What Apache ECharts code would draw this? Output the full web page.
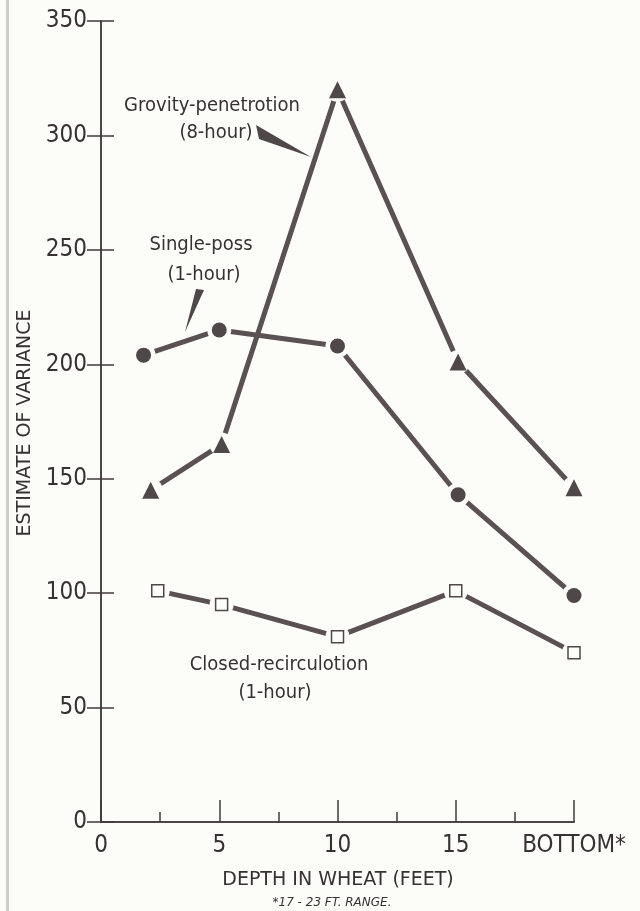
<!DOCTYPE html>
<html><head><meta charset="utf-8">
<script src="https://cdn.jsdelivr.net/npm/echarts@6/dist/echarts.min.js"></script>
<style>html,body{margin:0;padding:0;background:#fcfcf8}#c{width:640px;height:911px}</style>
</head><body><div id="c"></div>
<script>
// ---- data ----
const depthGravity = [2.1, 5.1, 10.0, 15.1, 20];
const gravity      = [145, 165, 320, 201, 146];
const depthSingle  = [1.8, 5.0, 10.0, 15.1, 20];
const single       = [204, 215, 208, 143, 99];
const depthClosed  = [2.4, 5.1, 10.0, 15.0, 20];
const closed       = [101, 95, 81, 101, 74];
const xTickValues  = [0, 5, 10, 15, 20];
const xTickLabels  = ['0', '5', '10', '15', 'BOTTOM*'];
const yTickValues  = [0, 50, 100, 150, 200, 250, 300, 350];

const FONT = '"DejaVu Sans Condensed","Liberation Sans Narrow","DejaVu Sans",sans-serif';
const INK = '#363232';
const LINE = '#5a5252';
const MARK = '#4e4848';
const BG = '#fcfcf8';

const pairs = (xs, ys) => xs.map((x, i) => [x, ys[i]]);
const gData = pairs(depthGravity, gravity);
const sData = pairs(depthSingle, single);
const cData = pairs(depthClosed, closed);

const chart = echarts.init(document.getElementById('c'), null, {renderer: 'canvas'});

const lineSeries = (d) => ({
  type: 'line', data: d, symbol: 'none', z: 1, silent: true,
  lineStyle: {color: LINE, width: 5, opacity: 1}, animation: false
});
const gapSeries = (d) => ({
  type: 'scatter', data: d, symbol: 'circle', symbolSize: 24, z: 2, silent: true,
  itemStyle: {color: BG, opacity: 1}, animation: false
});

const opt = {
  backgroundColor: BG,
  animation: false,
  grid: {left: 101, right: 66, top: 21, bottom: 89, containLabel: false},
  xAxis: [{
    type: 'value', min: 0, max: 20, interval: 5, position: 'bottom',
    axisLine: {show: true, lineStyle: {color: '#3f3b3b', width: 1.5}},
    axisTick: {show: true, inside: true, length: 22, lineStyle: {color: '#3f3b3b', width: 1.5}},
    minorTick: {show: true, splitNumber: 2, length: 10, lineStyle: {color: '#3f3b3b', width: 1.5}},
    splitLine: {show: false},
    axisLabel: {
      margin: 12, color: INK, fontFamily: FONT, fontSize: 24,
      formatter: v => { const i = xTickValues.indexOf(v); return i >= 0 ? xTickLabels[i] : ''; }
    }
  }, {
    type: 'value', min: 0, max: 20, interval: 5, position: 'top',
    axisLine: {show: true, lineStyle: {color: '#3f3b3b', width: 1.5}},
    axisTick: {show: false}, axisLabel: {show: false}, splitLine: {show: false}
  }],
  yAxis: [{
    type: 'value', min: 0, max: 350, interval: 50, position: 'left',
    axisLine: {show: true, lineStyle: {color: '#3f3b3b', width: 1.5}},
    axisTick: {show: true, inside: true, length: 13, lineStyle: {color: '#3f3b3b', width: 1.5}},
    splitLine: {show: false},
    axisLabel: {margin: 14, color: INK, fontFamily: FONT, fontSize: 24,
      formatter: v => yTickValues.includes(v) ? String(v) : ''}
  }, {
    type: 'value', min: 0, max: 350, interval: 50, position: 'right', z: 3,
    axisLine: {show: true, lineStyle: {color: '#3f3b3b', width: 1.5}},
    axisTick: {show: true, inside: true, length: 14, lineStyle: {color: '#3f3b3b', width: 1.5}},
    splitLine: {show: false}, axisLabel: {show: false}
  }],
  series: [
    lineSeries(gData), lineSeries(sData), lineSeries(cData),
    gapSeries(gData), gapSeries(sData), gapSeries(cData),
    {name: 'Gravity-penetration (8-hour)', type: 'scatter', data: gData, symbol: 'triangle', symbolSize: 17, z: 4,
     itemStyle: {color: MARK, opacity: 1}},
    {name: 'Single-pass (1-hour)', type: 'scatter', data: sData, symbol: 'circle', symbolSize: 15, z: 4,
     itemStyle: {color: MARK, opacity: 1}},
    {name: 'Closed-recirculation (1-hour)', type: 'scatter', data: cData, symbol: 'rect', symbolSize: 12, z: 4,
     itemStyle: {color: 'rgba(0,0,0,0)', borderColor: MARK, borderWidth: 1.5, opacity: 1}}
  ],
  graphic: [
    {type: 'rect', shape: {x: 6, y: 0, width: 3, height: 911}, style: {fill: '#cfcfc6'}, silent: true},
    {type: 'text', x: 212, y: 106, style: {text: 'Grovity-penetrotion', fill: INK, font: '20px ' + FONT, align: 'center', verticalAlign: 'middle'}},
    {type: 'text', x: 216, y: 133, style: {text: '(8-hour)', fill: INK, font: '20px ' + FONT, align: 'center', verticalAlign: 'middle'}},
    {type: 'polygon', shape: {points: [[256, 125], [259, 139], [311, 157]]}, style: {fill: MARK}},
    {type: 'text', x: 201, y: 245, style: {text: 'Single-poss', fill: INK, font: '20px ' + FONT, align: 'center', verticalAlign: 'middle'}},
    {type: 'text', x: 204, y: 275, style: {text: '(1-hour)', fill: INK, font: '20px ' + FONT, align: 'center', verticalAlign: 'middle'}},
    {type: 'polygon', shape: {points: [[196, 289], [204, 290], [185, 332]]}, style: {fill: MARK}},
    {type: 'text', x: 279, y: 665, style: {text: 'Closed-recirculotion', fill: INK, font: '20px ' + FONT, align: 'center', verticalAlign: 'middle'}},
    {type: 'text', x: 275, y: 693, style: {text: '(1-hour)', fill: INK, font: '20px ' + FONT, align: 'center', verticalAlign: 'middle'}},
    {type: 'text', x: 25, y: 423, rotation: Math.PI / 2,
     style: {text: 'ESTIMATE OF VARIANCE', fill: INK, font: '19px "DejaVu Sans",sans-serif', align: 'center', verticalAlign: 'middle'}},
    {type: 'text', x: 338, y: 880, style: {text: 'DEPTH IN WHEAT (FEET)', fill: INK, font: '19px "DejaVu Sans",sans-serif', align: 'center', verticalAlign: 'middle'}},
    {type: 'text', x: 332, y: 903, style: {text: '*17 - 23 FT. RANGE.', fill: INK, font: 'italic 12px "DejaVu Sans",sans-serif', align: 'center', verticalAlign: 'middle'}}
  ]
};
chart.setOption(opt);
</script></body></html>
